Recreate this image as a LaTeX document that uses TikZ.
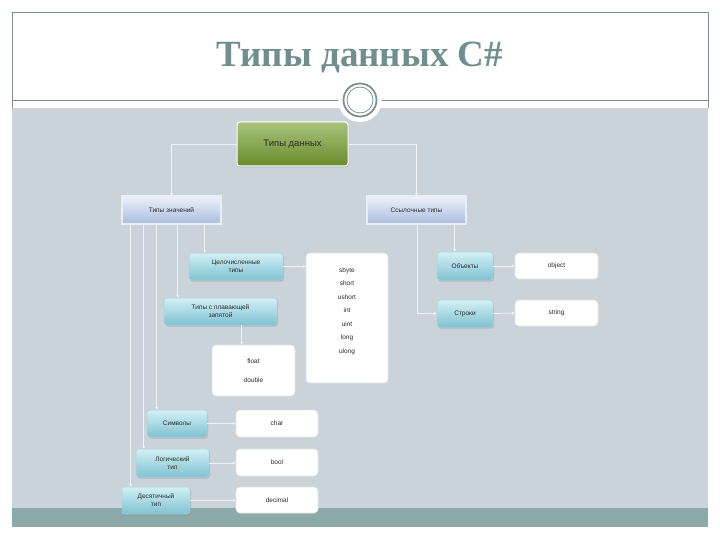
\documentclass[tikz,border=0pt]{standalone}
\usepackage{fontspec}
\setmainfont{Liberation Sans}
\newfontfamily\titlefont{Liberation Serif}
\usetikzlibrary{arrows.meta,shadows,calc}
\definecolor{bgpanel}{HTML}{C9D3D9}
\definecolor{bandcol}{HTML}{8BA9A8}
\definecolor{framecol}{HTML}{7E8E8E}
\definecolor{titlecol}{HTML}{6F8E8E}
\definecolor{conncol}{HTML}{F0F3F4}
\definecolor{txtcol}{HTML}{2A2A2A}
\definecolor{gtop}{HTML}{A9C47A}
\definecolor{gbot}{HTML}{6A8A2C}
\definecolor{bdraw}{HTML}{4D5E7E}
\definecolor{bdbl}{HTML}{E8EEF8}
\definecolor{btop}{HTML}{EEF2FA}
\definecolor{bbot}{HTML}{A9BCDC}
\definecolor{tdraw}{HTML}{A8D6E0}
\definecolor{ttop}{HTML}{D2F0F5}
\definecolor{tbot}{HTML}{7FC2D1}
\definecolor{wdraw}{HTML}{E2E6E6}
\definecolor{ringcol}{HTML}{7C9292}
\tikzset{
  every node/.style={inner sep=0pt, text=txtcol, align=center},
  greenbox/.style={rounded corners=3pt, draw=white, line width=1pt,
    top color=gtop, bottom color=gbot, font=\fontsize{9.5}{11}\selectfont,
    drop shadow={opacity=0.25, shadow xshift=1pt, shadow yshift=-1.5pt}},
  bluebox/.style={draw=bdraw, double=bdbl, double distance=1.2pt, line width=0.5pt,
    top color=btop, bottom color=bbot, font=\fontsize{6.5}{8}\selectfont},
  tealbox/.style={rounded corners=3pt, draw=tdraw, line width=0.5pt,
    top color=ttop, bottom color=tbot, font=\fontsize{6.5}{8}\selectfont,
    drop shadow={opacity=0.3, shadow xshift=1pt, shadow yshift=-1.5pt}},
  whitebox/.style={rounded corners=4pt, fill=white, draw=wdraw, line width=0.6pt,
    font=\fontsize{6.5}{8}\selectfont},
  conn/.style={draw=conncol, line width=0.8pt, -{Stealth[length=3pt,width=3pt]}},
}
\begin{document}
\begin{tikzpicture}[x=1pt, y=-1pt]
\useasboundingbox (0,0) rectangle (720,540);
% panels
\fill[white] (0,0) rectangle (720,540);
\fill[bgpanel] (12,108) rectangle (708,508);
\fill[bandcol] (12,508) rectangle (708,527);
\draw[framecol, line width=0.7pt] (12,108) -- (12,12) -- (708,12) -- (708,108);
\draw[framecol, line width=0.8pt] (12,100) -- (708,100);
% ornament
\fill[white] (360,100) circle (22);
\draw[ringcol, line width=1.8pt] (360,100) circle (16.5);
\draw[ringcol, line width=0.8pt] (360,100) circle (13);
% title
\node[text=titlecol, font=\titlefont\bfseries\fontsize{37}{40}\selectfont] (title) at (360,57) {Типы данных C\#};
% nodes
\node[greenbox, minimum width=111, minimum height=44] (root) at (292.5,144) {Типы данных};
\node[bluebox, minimum width=99, minimum height=28] (val) at (171.5,210) {Типы значений};
\node[bluebox, minimum width=99, minimum height=28] (ref) at (416.5,210) {Ссылочные типы};
\node[tealbox, minimum width=94, minimum height=27] (int) at (236,266.5) {Целочисленные\\типы};
\node[tealbox, minimum width=113, minimum height=27] (flt) at (220.5,311.5) {Типы с плавающей\\запятой};
\node[tealbox, minimum width=60, minimum height=27] (chr) at (177,423.5) {Символы};
\node[tealbox, minimum width=73, minimum height=28] (bool) at (172.5,463) {Логический\\тип};
\node[tealbox, minimum width=68, minimum height=27] (dec) at (156,500.5) {Десятичный\\тип};
\node[tealbox, minimum width=56, minimum height=28] (obj) at (465,266) {Объекты};
\node[tealbox, minimum width=56, minimum height=27] (str) at (465,313.5) {Строки};
\node[whitebox, minimum width=83, minimum height=26] (objv) at (556.5,266) {object};
\node[whitebox, minimum width=83, minimum height=26] (strv) at (556.5,313) {string};
\node[whitebox, minimum width=82, minimum height=130] (intv) at (347,318) {};
\node[font=\fontsize{6.5}{13.5}\selectfont] (intlist) at (347,311) {sbyte\\short\\ushort\\int\\uint\\long\\ulong};
\node[whitebox, minimum width=83, minimum height=51, font=\fontsize{6.5}{19}\selectfont] (fltv) at (253.5,370.5) {float\\double};
\node[whitebox, minimum width=82, minimum height=27] (chrv) at (277,423.5) {char};
\node[whitebox, minimum width=82, minimum height=27] (boolv) at (277,462.5) {bool};
\node[whitebox, minimum width=82, minimum height=26] (decv) at (277,500) {decimal};
% coordinates on the bottoms
\coordinate (v1) at ($(val.south west)+(83,0)$);
\coordinate (v2) at ($(val.south west)+(56,0)$);
\coordinate (v3) at ($(val.south west)+(35,0)$);
\coordinate (v4) at ($(val.south west)+(22,0)$);
\coordinate (v5) at ($(val.south west)+(9,0)$);
\coordinate (r1) at ($(ref.south west)+(51,0)$);
\coordinate (r2) at ($(ref.south west)+(88,0)$);
\coordinate (f1) at ($(flt.south west)+(78,0)$);
% connectors
\draw[conn] (root.west) -| (val.north);
\draw[conn] (root.east) -| (ref.north);
\draw[conn] (v1) -- (v1 |- int.north);
\draw[conn] (v2) -- (v2 |- flt.north);
\draw[conn] (v3) -- (v3 |- chr.north);
\draw[conn] (v4) -- (v4 |- bool.north);
\draw[conn] (v5) -- (v5 |- dec.north);
\draw[conn] (r2) -- (r2 |- obj.north);
\draw[conn] (r1) |- (str.west);
\draw[conn] (int.east) -- (int.east -| intv.west);
\draw[conn] (f1) -- (f1 |- fltv.north);
\draw[conn] (chr.east) -- (chrv.west);
\draw[conn] (bool.east) -- (bool.east -| boolv.west);
\draw[conn] (dec.east) -- (dec.east -| decv.west);
\draw[conn] (obj.east) -- (objv.west);
\draw[conn] (str.east) -- (strv.west);
\end{tikzpicture}
\end{document}
